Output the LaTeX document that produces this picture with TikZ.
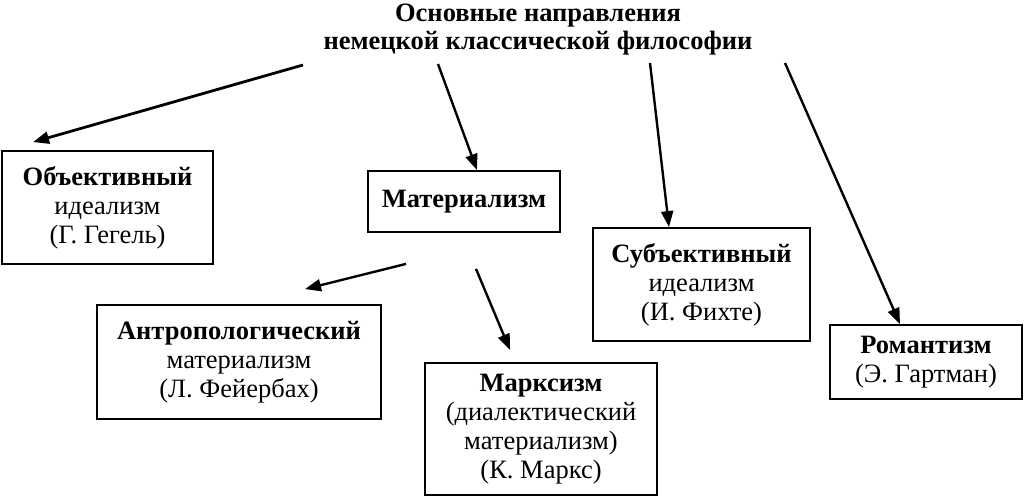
\documentclass[tikz,border=0pt]{standalone}
\usepackage{fontspec}
\setmainfont{Liberation Serif}
\usetikzlibrary{arrows.meta}
\tikzset{
  box/.style={draw=black, line width=1.8pt, inner sep=0pt, align=center,
    font=\fontsize{26.5}{29}\selectfont},
  arr/.style={line width=2.4pt, -{Triangle[length=16pt,width=12pt]}},
  ttl/.style={align=center, font=\fontsize{26.5}{28.5}\selectfont\bfseries}
}
\begin{document}
\begin{tikzpicture}[x=1pt,y=-1pt]
\useasboundingbox (0,0) rectangle (1024,497);
\node[ttl] (title) at (538,29.5) {Основные направления\\немецкой классической философии};
\node[box, minimum width=211pt, minimum height=113pt] (obj) at (107.5,207.5)
  {\textbf{Объективный}\\идеализм\\(Г. Гегель)};
\node[box, minimum width=192pt, minimum height=61pt] (mat) at (464,201.5)
  {\textbf{Материализм}};
\node[box, minimum width=217pt, minimum height=113pt] (subj) at (701.5,284.5)
  {\textbf{Субъективный}\\идеализм\\(И. Фихте)};
\node[box, minimum width=284pt, minimum height=114pt] (anth) at (239,362)
  {\textbf{Антропологический}\\материализм\\(Л. Фейербах)};
\node[box, minimum width=232pt, minimum height=132pt] (marx) at (541,429)
  {\textbf{Марксизм}\\(диалектический\\материализм)\\(К. Маркс)};
\node[box, minimum width=192pt, minimum height=74pt] (rom) at (926,362)
  {\textbf{Романтизм}\\(Э. Гартман)};
\coordinate (s1) at (303,65);
\coordinate (s2) at (438,64);
\coordinate (s3) at (650,63);
\coordinate (s4) at (785,63);
\coordinate (s5) at ([xshift=-58pt,yshift=-31pt]mat.south);
\coordinate (s6) at ([xshift=12pt,yshift=-36pt]mat.south);
\draw[arr, line width=2.8pt] (s1) -- ([xshift=-74.5pt,yshift=8pt]obj.north);
\draw[arr] (s2) -- ([xshift=13pt]mat.north);
\draw[arr] (s3) -- ([xshift=-32.5pt]subj.north);
\draw[arr] (s4) -- ([xshift=-26pt]rom.north);
\draw[arr] (s5) -- ([xshift=66pt,yshift=15pt]anth.north);
\draw[arr] (s6) -- ([xshift=-31pt,yshift=12pt]marx.north);
\end{tikzpicture}
\end{document}
